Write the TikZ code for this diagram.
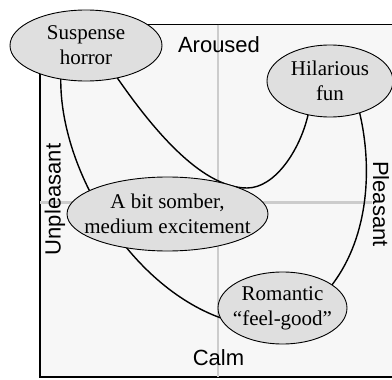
\documentclass[tikz,border=0pt]{standalone}
\usepackage{fontspec}
\setmainfont{Liberation Serif}
\setsansfont{Liberation Sans}
\usetikzlibrary{shapes.geometric}
\pgfdeclarelayer{back}
\pgfsetlayers{back,main}

\begin{document}
\begin{tikzpicture}[x=1pt, y=-1pt,
    mood/.style={ellipse, draw, line width=0.9pt, fill=gray!25, inner sep=0pt, outer sep=0pt},
    moodtext/.style={align=center, font=\fontsize{21}{25}\selectfont},
    axislabel/.style={font=\sffamily\fontsize{22}{26}\selectfont},
    link/.style={line width=1.4pt}]
    \useasboundingbox (0,0) rectangle (392,380);

    % the four moods
    \node[mood, minimum width=152pt, minimum height=71pt] (sus) at (86,45.5) {};
    \node[moodtext] (sus-t) at (sus) {Suspense\\horror};
    \node[mood, minimum width=126pt, minimum height=72pt] (hil) at (330,81) {};
    \node[moodtext] (hil-t) at (hil) {Hilarious\\fun};
    \node[mood, minimum width=201pt, minimum height=74pt] (som) at (167.5,214) {};
    \node[moodtext] (som-t) at (som) {A bit somber,\\medium excitement};
    \node[mood, minimum width=129pt, minimum height=72pt] (rom) at (282.5,308) {};
    \node[moodtext] (rom-t) at (rom) {Romantic\\``feel-good''};

    \begin{pgfonlayer}{back}
        \draw[line width=1.8pt, fill=black!3] (40,24.5) rectangle (402,377);
        \draw[black!20, line width=2.5pt] (218,24.5) -- (218,377);
        \draw[black!20, line width=2.5pt] (40,202.5) -- (372,202.5);

        \node[axislabel] (up) at (219,45) {Aroused};
        \node[axislabel] (down) at (218.5,358) {Calm};
        \node[axislabel, rotate=90] (left) at (55,199.5) {Unpleasant};
        \node[axislabel, rotate=-90] (right) at (381,204) {Pleasant};

        \draw[link] (sus.233) .. controls (60,170) and (130,285) .. (rom.189);
        \draw[link] (sus.314) .. controls (150,125) and (200,188) .. (247,188)
            .. controls (275,188) and (300,150) .. (hil.237);
        \draw[link] (hil.313) .. controls (372,165) and (370,235) .. (rom.25);
    \end{pgfonlayer}
\end{tikzpicture}
\end{document}
